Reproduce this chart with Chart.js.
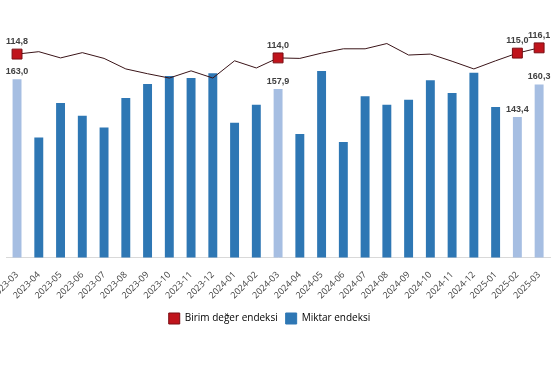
<!DOCTYPE html>
<html>
<head>
<meta charset="utf-8">
<script src="https://cdn.jsdelivr.net/npm/chart.js@4.4.1/dist/chart.umd.min.js"></script>
<style>
html, body { margin: 0; padding: 0; background: #fff; overflow: hidden; }
#wrap { position: absolute; left: -11px; top: 0; width: 571px; height: 380px; }
</style>
</head>
<body>
<div id="wrap"><canvas id="chart"></canvas></div>
<script>
const months = ['2023-03', '2023-04', '2023-05', '2023-06', '2023-07', '2023-08', '2023-09',
    '2023-10', '2023-11', '2023-12', '2024-01', '2024-02', '2024-03', '2024-04', '2024-05',
    '2024-06', '2024-07', '2024-08', '2024-09', '2024-10', '2024-11', '2024-12', '2025-01',
    '2025-02', '2025-03'];
const unitValue = [114.8, 115.3, 114.0, 115.1, 113.9, 111.7, 110.7, 109.8, 111.3, 109.8,
    113.4, 111.9, 114.0, 113.9, 115.0, 115.9, 115.9, 117.0, 114.6, 114.8, 113.3, 111.7,
    113.4, 115.0, 116.1];
const quantity = [163.0, 132.7, 150.7, 144.0, 137.9, 153.3, 160.6, 164.8, 163.7, 166.2,
    140.3, 149.7, 157.9, 134.4, 167.4, 130.3, 154.2, 149.7, 152.3, 162.5, 155.9, 166.4,
    148.5, 143.4, 160.3];
const highlighted = [0, 12, 23, 24];

const RED = '#c0141c', BLUE = '#2e77b4', LIGHT = '#a6bee2';

const fmt = v => v.toFixed(1).replace('.', ',');

// value labels only on the highlighted months
const valueLabels = {
    id: 'valueLabels',
    afterDatasetsDraw(chart) {
        const ctx = chart.ctx;
        ctx.save();
        ctx.font = 'bold 9px "Liberation Sans", Arial, sans-serif';
        ctx.fillStyle = '#404040';
        ctx.textAlign = 'center';
        ctx.textBaseline = 'bottom';
        highlighted.forEach(i => {
            const p = chart.getDatasetMeta(0).data[i];
            ctx.fillText(fmt(unitValue[i]), p.x, p.y - 8);
            const b = chart.getDatasetMeta(1).data[i];
            ctx.fillText(fmt(quantity[i]), b.x, b.y - 3);
        });
        ctx.restore();
    }
};

new Chart(document.getElementById('chart'), {
    data: {
        labels: months,
        datasets: [{
            type: 'line',
            label: 'Birim değer endeksi',
            data: unitValue,
            yAxisID: 'yLine',
            borderColor: '#3a1418',
            borderWidth: 1,
            tension: 0,
            pointStyle: 'rect',
            pointRadius: months.map((m, i) => highlighted.includes(i) ? 7 : 0),
            pointHoverRadius: 0,
            pointBackgroundColor: RED,
            pointBorderColor: '#7a0c12',
            pointBorderWidth: 1,
            order: 0
        }, {
            type: 'bar',
            label: 'Miktar endeksi',
            data: quantity,
            yAxisID: 'yBar',
            backgroundColor: months.map((m, i) => highlighted.includes(i) ? LIGHT : BLUE),
            barPercentage: 0.41,
            categoryPercentage: 1,
            order: 1
        }]
    },
    options: {
        responsive: true,
        maintainAspectRatio: false,
        animation: false,
        layout: { padding: { top: 10, bottom: 46, right: 10 } },
        scales: {
            x: {
                grid: { display: false },
                border: { color: '#d9d9d9' },
                ticks: {
                    color: '#404040',
                    font: { size: 9, family: '"Open Sans", "Noto Sans", sans-serif' },
                    maxRotation: 45, minRotation: 45, autoSkip: false, padding: 4
                }
            },
            yBar: { display: false, min: 70, max: 199.2 },
            yLine: { display: false, position: 'right', min: 72.35, max: 124.0 }
        },
        plugins: {
            tooltip: { enabled: false },
            legend: {
                position: 'bottom',
                labels: {
                    boxWidth: 11, boxHeight: 11, padding: 8,
                    color: '#404040',
                    font: { size: 10, family: '"Open Sans", "Noto Sans", sans-serif' },
                    generateLabels: () => [
                        { text: 'Birim değer endeksi', fillStyle: RED, strokeStyle: '#7a0c12', lineWidth: 1, datasetIndex: 0 },
                        { text: 'Miktar endeksi', fillStyle: BLUE, strokeStyle: BLUE, lineWidth: 1, datasetIndex: 1 }
                    ]
                }
            }
        }
    },
    plugins: [valueLabels]
});
</script>
</body>
</html>
